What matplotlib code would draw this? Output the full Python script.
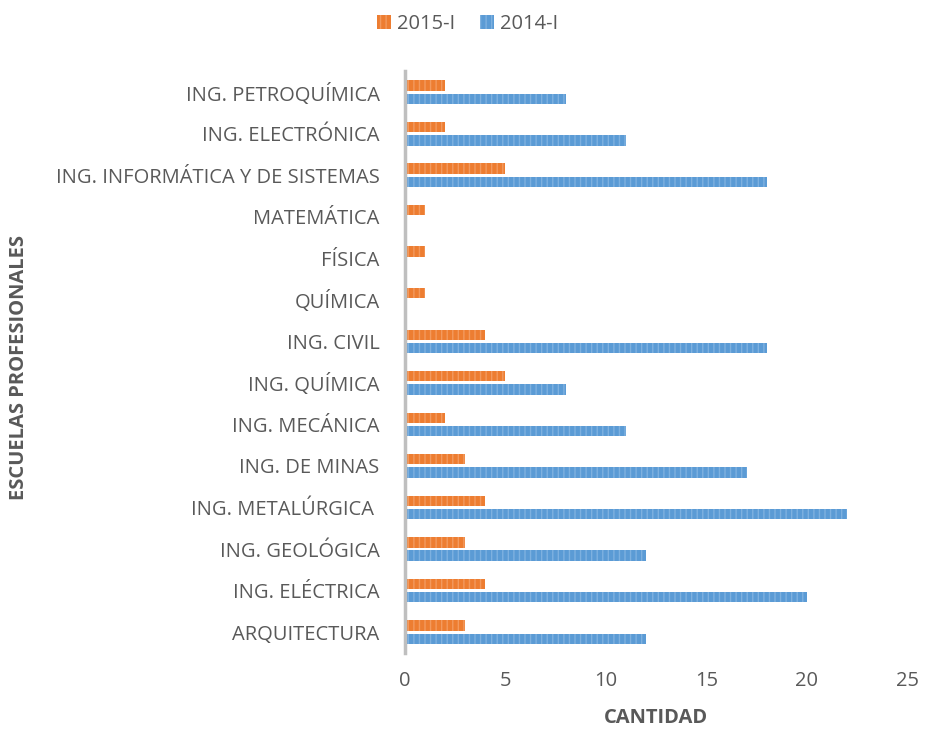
import numpy as np
import matplotlib
matplotlib.use('Agg')
import matplotlib.pyplot as plt
from matplotlib.patches import Patch

plt.rcParams['font.family'] = ['Open Sans', 'DejaVu Sans']
plt.rcParams['hatch.linewidth'] = 1.0

# data (bottom to top)
escuelas = ['ARQUITECTURA', 'ING. ELÉCTRICA', 'ING. GEOLÓGICA', 'ING. METALÚRGICA ',
            'ING. DE MINAS', 'ING. MECÁNICA', 'ING. QUÍMICA', 'ING. CIVIL', 'QUÍMICA',
            'FÍSICA', 'MATEMÁTICA', 'ING. INFORMÁTICA Y DE SISTEMAS',
            'ING. ELECTRÓNICA', 'ING. PETROQUÍMICA']
v2015 = [3, 4, 3, 4, 3, 2, 5, 4, 1, 1, 1, 5, 2, 2]
v2014 = [12, 20, 12, 22, 17, 11, 8, 18, 0, 0, 0, 18, 11, 8]

orange = '#ED7D31'
blue = '#5B9BD5'
gray = '#595959'

fig = plt.figure(figsize=(9.26, 7.36), dpi=100)
ax = fig.add_axes([0.437, 0.113, 0.543, 0.79])

y = np.arange(len(escuelas))
h = 0.25
ax.barh(y + 0.16, v2015, height=h, color=orange, edgecolor='#F39A5E', hatch='|||', linewidth=0)
ax.barh(y - 0.16, v2014, height=h, color=blue, edgecolor='#7EB1E0', hatch='|||', linewidth=0)

ax.set_xlim(0, 25)
ax.set_ylim(-0.5, len(escuelas) - 0.5)
ax.set_xticks([0, 5, 10, 15, 20, 25])
ax.set_yticks(y)
ax.set_yticklabels(escuelas)
ax.tick_params(axis='both', length=0, labelsize=14.5, colors=gray)
ax.tick_params(axis='x', pad=13)
ax.tick_params(axis='y', pad=18)

for s in ['top', 'right', 'bottom']:
    ax.spines[s].set_visible(False)
ax.spines['left'].set_color('#BFBFBF')
ax.spines['left'].set_linewidth(2.5)

ax.set_xlabel('CANTIDAD', fontsize=14.5, fontweight='bold', color=gray, labelpad=12)
fig.text(0.02, 0.5, 'ESCUELAS PROFESIONALES', rotation=90, fontsize=14.5,
         fontweight='bold', color=gray, ha='center', va='center')

handles = [Patch(facecolor=orange, edgecolor='#F39A5E', hatch='|||', linewidth=0),
           Patch(facecolor=blue, edgecolor='#7EB1E0', hatch='|||', linewidth=0)]
fig.legend(handles, ['2015-I', '2014-I'], loc='upper center', bbox_to_anchor=(0.505, 1.005),
           ncol=2, frameon=False, fontsize=14.5, labelcolor=gray,
           handlelength=0.7, handleheight=0.7, handletextpad=0.3, columnspacing=1.2)

fig.savefig('out.png', dpi=100)
